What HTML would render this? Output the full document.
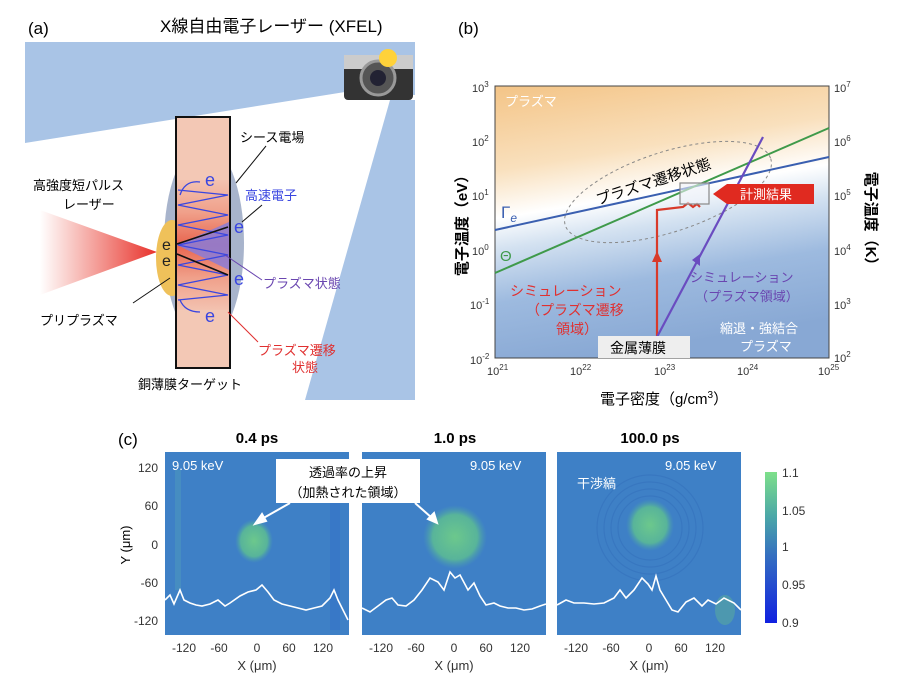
<!DOCTYPE html>
<html><head><meta charset="utf-8"><style>
html,body{margin:0;padding:0;background:#fff}
svg{display:block}
text{font-family:"Liberation Sans","Noto Sans CJK JP",sans-serif}
</style></head><body>
<svg width="903" height="687" viewBox="0 0 903 687" xmlns="http://www.w3.org/2000/svg">
<defs>
<linearGradient id="laser" x1="0" y1="0" x2="1" y2="0">
<stop offset="0" stop-color="#e83a2a" stop-opacity="0"/><stop offset="1" stop-color="#e8302a"/></linearGradient>
<linearGradient id="tgt" x1="0" y1="0" x2="0" y2="1">
<stop offset="0" stop-color="#f3c2b0"/><stop offset="0.25" stop-color="#f0a08a"/><stop offset="0.5" stop-color="#e8654f"/><stop offset="0.75" stop-color="#f0a08a"/><stop offset="1" stop-color="#f3c2b0"/></linearGradient>
<linearGradient id="bg" x1="0.1" y1="0" x2="0.3" y2="1">
<stop offset="0" stop-color="#f4c68a"/><stop offset="0.28" stop-color="#f9e0bd"/><stop offset="0.45" stop-color="#ffffff"/><stop offset="0.56" stop-color="#d4e2f1"/><stop offset="0.75" stop-color="#9dbadf"/><stop offset="1" stop-color="#88a8d4"/></linearGradient>
<radialGradient id="spot"><stop offset="0" stop-color="#6cc88c"/><stop offset="0.7" stop-color="#58b49a"/><stop offset="1" stop-color="#4a9cb0" stop-opacity="0"/></radialGradient>
<linearGradient id="cbar" x1="0" y1="0" x2="0" y2="1">
<stop offset="0" stop-color="#7ee08a"/><stop offset="0.3" stop-color="#4aa6a8"/><stop offset="0.55" stop-color="#3570c0"/><stop offset="1" stop-color="#1020e0"/></linearGradient>
</defs>

<!-- Panel a -->
<text x="28" y="34" font-size="17">(a)</text>
<text x="160" y="32" font-size="17">X線自由電子レーザー (XFEL)</text>
<polygon points="25,42 415,42 415,95 345,92 25,143" fill="#a9c4e6"/>
<polygon points="390,100 415,100 415,400 305,400" fill="#a9c4e6"/>
<rect x="344" y="55" width="69" height="45" rx="4" fill="#333"/>
<rect x="344" y="55" width="69" height="14" fill="#ccc"/>
<circle cx="378" cy="78" r="17" fill="#555" stroke="#999" stroke-width="3"/>
<circle cx="378" cy="78" r="8" fill="#223"/>
<circle cx="388" cy="58" r="9" fill="#ffd23a"/>
<polygon points="40,210 157,252 40,295" fill="url(#laser)"/>
<ellipse cx="204" cy="243" rx="40" ry="100" fill="#a8b4cc"/>
<ellipse cx="172" cy="258" rx="16" ry="38" fill="#efc15a"/>
<rect x="176" y="117" width="54" height="251" fill="#f3c8b5" stroke="#111" stroke-width="2"/>
<rect x="177" y="180" width="52" height="130" fill="url(#tgt)"/>
<polygon points="177,245 229,222 229,270" fill="#8a7cd8" opacity="0.85"/>
<path d="M178,190 L228,195 L178,205 L228,215 L178,225 L228,235 L178,245 L228,255 L178,265 L228,275 L178,285 L228,295 L178,300" fill="none" stroke="#3a46e0" stroke-width="1.3"/>
<path d="M180,195 Q185,180 200,182" fill="none" stroke="#3a46e0" stroke-width="1.3"/>
<path d="M180,300 Q185,312 200,312" fill="none" stroke="#3a46e0" stroke-width="1.3"/>
<line x1="177" y1="244" x2="228" y2="227" stroke="#111" stroke-width="1.6"/>
<line x1="177" y1="254" x2="228" y2="275" stroke="#111" stroke-width="1.6"/>
<text x="205" y="186" font-size="18" fill="#3a46e0">e</text>
<text x="234" y="233" font-size="18" fill="#3a46e0">e</text>
<text x="234" y="285" font-size="18" fill="#3a46e0">e</text>
<text x="205" y="322" font-size="18" fill="#3a46e0">e</text>
<text x="162" y="250" font-size="16" fill="#222">e</text>
<text x="162" y="266" font-size="16" fill="#222">e</text>
<text x="240" y="142" font-size="13">シース電場</text>
<line x1="236" y1="183" x2="266" y2="146" stroke="#111"/>
<text x="245" y="200" font-size="13" fill="#3a46e0">高速電子</text>
<line x1="242" y1="222" x2="262" y2="205" stroke="#111"/>
<text x="263" y="288" font-size="13" fill="#6a46b0">プラズマ状態</text>
<line x1="225" y1="255" x2="262" y2="280" stroke="#6a46b0"/>
<text x="33" y="190" font-size="13">高強度短パルス</text>
<text x="63" y="209" font-size="13">レーザー</text>
<text x="40" y="325" font-size="13">プリプラズマ</text>
<line x1="133" y1="303" x2="170" y2="278" stroke="#111"/>
<text x="258" y="355" font-size="13" fill="#e03030">プラズマ遷移</text>
<text x="292" y="372" font-size="13" fill="#e03030">状態</text>
<line x1="228" y1="312" x2="258" y2="342" stroke="#e03030"/>
<text x="138" y="389" font-size="13">銅薄膜ターゲット</text>

<!-- Panel b -->
<text x="458" y="34" font-size="17">(b)</text>
<rect x="495" y="86" width="334" height="272" fill="url(#bg)"/>
<rect x="495" y="86" width="334" height="272" fill="none" stroke="#444" stroke-width="1"/>
<text x="505" y="106" font-size="13" fill="#fff">プラズマ</text>
<ellipse cx="668" cy="192" rx="108" ry="40" transform="rotate(-18 668 192)" fill="none" stroke="#888" stroke-dasharray="3,3"/>
<line x1="495" y1="230" x2="829" y2="157" stroke="#3a5fb0" stroke-width="2"/>
<line x1="495" y1="273" x2="829" y2="128" stroke="#3f9a4a" stroke-width="2"/>
<text x="501" y="218" font-size="17" fill="#3a5fb0" font-family="Liberation Serif,serif">Γ<tspan font-size="12" font-style="italic" dy="4">e</tspan></text>
<text x="500" y="261" font-size="15" fill="#3f9a4a" font-family="Liberation Serif,serif">Θ</text>
<text x="598" y="205" font-size="15" transform="rotate(-18 598 205)">プラズマ遷移状態</text>
<polyline points="657,337 657,210 683,207 688,203 693,207 697,204 700,207" fill="none" stroke="#d83a2a" stroke-width="2.2"/>
<polygon points="652,262 662,262 657,251" fill="#d83a2a"/>
<line x1="657" y1="337" x2="763" y2="137" stroke="#6a4cc0" stroke-width="2.2"/>
<polygon points="692,260 700,266 700,254" fill="#6a4cc0"/>
<rect x="680" y="183" width="29" height="21" fill="#eef2f8" fill-opacity="0.6" stroke="#888" stroke-width="1.2"/>
<polygon points="713,194 727,184 814,184 814,204 727,204" fill="#e02a20"/>
<text x="740" y="199" font-size="13" fill="#fff">計測結果</text>
<text x="510" y="296" font-size="14" fill="#e03030">シミュレーション</text>
<text x="526" y="315" font-size="14" fill="#e03030">（プラズマ遷移</text>
<text x="556" y="334" font-size="14" fill="#e03030">領域）</text>
<text x="690" y="282" font-size="13" fill="#6a46b0">シミュレーション</text>
<text x="695" y="301" font-size="13" fill="#6a46b0">（プラズマ領域）</text>
<text x="720" y="333" font-size="13" fill="#fff">縮退・強結合</text>
<text x="740" y="351" font-size="13" fill="#fff">プラズマ</text>
<rect x="598" y="336" width="92" height="22" fill="#eeeeee"/>
<text x="610" y="353" font-size="14">金属薄膜</text>
<g font-size="11" fill="#333">
<text x="472" y="92">10<tspan font-size="8" dy="-5">3</tspan></text>
<text x="472" y="146">10<tspan font-size="8" dy="-5">2</tspan></text>
<text x="472" y="200">10<tspan font-size="8" dy="-5">1</tspan></text>
<text x="472" y="255">10<tspan font-size="8" dy="-5">0</tspan></text>
<text x="470" y="309">10<tspan font-size="8" dy="-5">-1</tspan></text>
<text x="470" y="364">10<tspan font-size="8" dy="-5">-2</tspan></text>
<text x="834" y="92">10<tspan font-size="8" dy="-5">7</tspan></text>
<text x="834" y="146">10<tspan font-size="8" dy="-5">6</tspan></text>
<text x="834" y="200">10<tspan font-size="8" dy="-5">5</tspan></text>
<text x="834" y="255">10<tspan font-size="8" dy="-5">4</tspan></text>
<text x="834" y="309">10<tspan font-size="8" dy="-5">3</tspan></text>
<text x="834" y="362">10<tspan font-size="8" dy="-5">2</tspan></text>
<text x="487" y="375">10<tspan font-size="8" dy="-5">21</tspan></text>
<text x="570" y="375">10<tspan font-size="8" dy="-5">22</tspan></text>
<text x="654" y="375">10<tspan font-size="8" dy="-5">23</tspan></text>
<text x="737" y="375">10<tspan font-size="8" dy="-5">24</tspan></text>
<text x="818" y="375">10<tspan font-size="8" dy="-5">25</tspan></text>
</g>
<text x="600" y="404" font-size="15">電子密度（g/cm<tspan font-size="10" dy="-6">3</tspan><tspan dy="6">）</tspan></text>
<text transform="translate(467,222) rotate(-90)" font-size="15" text-anchor="middle" font-weight="bold">電子温度（eV）</text>
<text transform="translate(866,222) rotate(90)" font-size="15" text-anchor="middle" font-weight="bold">電子温度（K）</text>

<!-- Panel c -->
<text x="118" y="445" font-size="17">(c)</text>
<text x="257" y="443" font-size="15" font-weight="bold" text-anchor="middle">0.4 ps</text>
<text x="455" y="443" font-size="15" font-weight="bold" text-anchor="middle">1.0 ps</text>
<text x="650" y="443" font-size="15" font-weight="bold" text-anchor="middle">100.0 ps</text>
<rect x="165" y="452" width="184" height="183" fill="#3e80c6"/>
<rect x="362" y="452" width="184" height="183" fill="#3e80c6"/>
<rect x="557" y="452" width="184" height="183" fill="#3e80c6"/>
<rect x="175" y="470" width="6" height="120" fill="#4e9abb" opacity="0.5"/>
<rect x="330" y="460" width="10" height="170" fill="#3270c8" opacity="0.5"/>
<ellipse cx="254" cy="541" rx="19" ry="22" fill="url(#spot)"/>
<ellipse cx="455" cy="537" rx="32" ry="32" fill="url(#spot)"/>
<g fill="none" stroke="#3470bc" stroke-width="1.2" opacity="0.55">
<circle cx="650" cy="528" r="32"/><circle cx="650" cy="528" r="39"/><circle cx="650" cy="528" r="46"/><circle cx="650" cy="528" r="53"/></g>
<ellipse cx="650" cy="525" rx="24" ry="26" fill="url(#spot)"/>
<ellipse cx="725" cy="610" rx="10" ry="15" fill="#58a8a0" opacity="0.6"/>
<g fill="none" stroke="#fff" stroke-width="1.6">
<polyline points="165,600 170,595 174,604 180,590 184,600 190,603 196,605 202,606 210,604 218,600 225,606 230,603 240,596 248,592 256,590 262,585 268,592 274,600 282,604 290,606 298,608 306,610 314,608 322,606 330,598 334,590 338,600 344,612 348,620"/>
<polyline points="362,608 370,612 378,606 386,600 392,598 398,605 406,606 414,600 422,590 430,578 438,582 444,590 450,572 455,578 460,575 468,590 474,583 480,596 486,605 494,603 500,606 508,608 516,608 524,610 532,609 540,606 546,604"/>
<polyline points="557,605 566,600 574,603 584,603 594,604 604,603 614,598 620,590 626,598 634,590 642,578 648,584 652,590 656,576 660,590 666,600 672,610 678,612 686,602 694,598 702,606 708,600 716,604 724,598 734,603 741,610"/>
</g>
<g font-size="13" fill="#fff">
<text x="172" y="470">9.05 keV</text>
<text x="470" y="470">9.05 keV</text>
<text x="665" y="470">9.05 keV</text>
<text x="577" y="488">干渉縞</text>
</g>
<rect x="276" y="459" width="144" height="44" fill="#fff"/>
<text x="348" y="477" font-size="13" text-anchor="middle">透過率の上昇</text>
<text x="348" y="497" font-size="13" text-anchor="middle">（加熱された領域）</text>
<g stroke="#fff" stroke-width="2" fill="#fff">
<line x1="290" y1="503" x2="260" y2="520"/><polygon points="255,524 262,514 266,521"/>
<line x1="415" y1="503" x2="432" y2="518"/><polygon points="437,523 428,519 434,513"/>
</g>
<rect x="765" y="472" width="12" height="151" fill="url(#cbar)"/>
<g font-size="12" fill="#333">
<text x="782" y="477">1.1</text><text x="782" y="515">1.05</text><text x="782" y="551">1</text>
<text x="782" y="589">0.95</text><text x="782" y="627">0.9</text>
<text x="158" y="472" text-anchor="end">120</text><text x="158" y="510" text-anchor="end">60</text>
<text x="158" y="549" text-anchor="end">0</text><text x="158" y="587" text-anchor="end">-60</text>
<text x="158" y="625" text-anchor="end">-120</text>
</g>
<g font-size="12" fill="#333" text-anchor="middle">
<text x="184" y="652">-120</text><text x="219" y="652">-60</text><text x="257" y="652">0</text><text x="289" y="652">60</text><text x="323" y="652">120</text>
<text x="381" y="652">-120</text><text x="416" y="652">-60</text><text x="454" y="652">0</text><text x="486" y="652">60</text><text x="520" y="652">120</text>
<text x="576" y="652">-120</text><text x="611" y="652">-60</text><text x="649" y="652">0</text><text x="681" y="652">60</text><text x="715" y="652">120</text>
<text x="257" y="670" font-size="13">X (μm)</text><text x="454" y="670" font-size="13">X (μm)</text><text x="649" y="670" font-size="13">X (μm)</text>
</g>
<text transform="translate(130,545) rotate(-90)" font-size="13" text-anchor="middle">Y (μm)</text>
</svg>
</body></html>
